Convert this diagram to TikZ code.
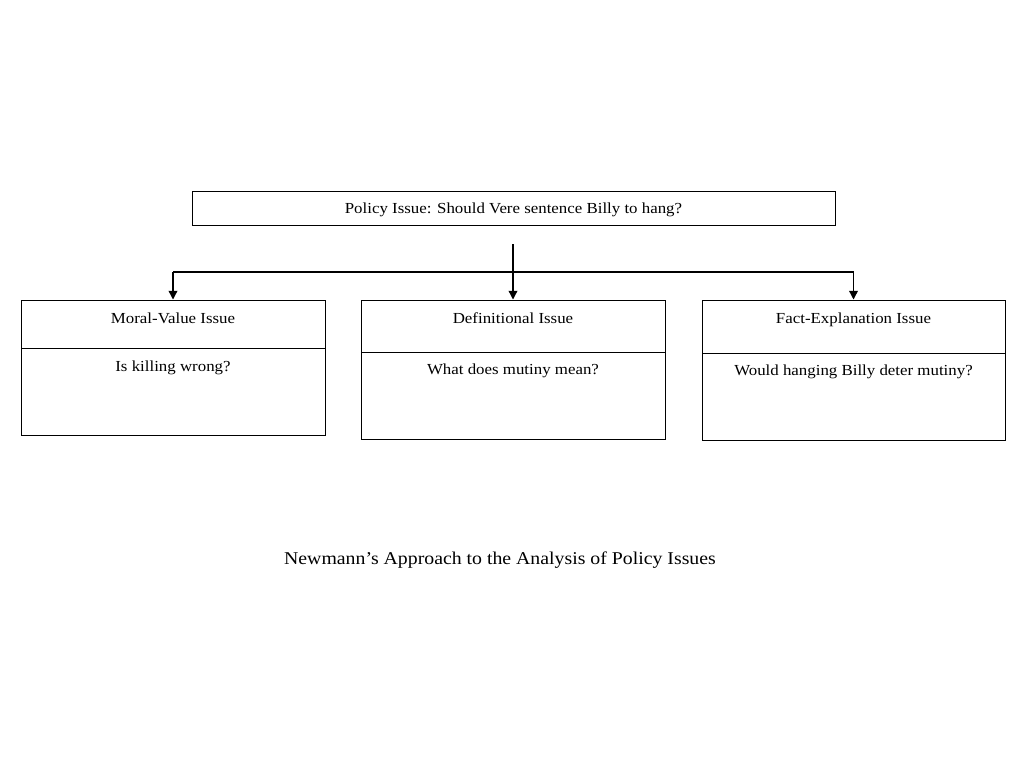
\documentclass[tikz,border=0pt]{standalone}
\usepackage{fontspec}
\setmainfont[FakeStretch=1.1]{Liberation Serif}
\usetikzlibrary{arrows.meta}
\begin{document}
\begin{tikzpicture}[x=0.75pt,y=-0.75pt,
  box/.style={draw,line width=0.75pt,inner sep=0pt,minimum width=228pt},
  txt/.style={inner sep=0pt,text height=8pt,text depth=2.5pt,font=\fontsize{11.5}{13}\selectfont},
  conn/.style={line width=1pt},
  arr/.style={line width=1pt,-{Triangle[width=6.5pt,length=6.5pt]}}]
\useasboundingbox[fill=white] (0,0) rectangle (1024,768);
% top box
\node[box,minimum width=482.25pt,minimum height=25.5pt] (top) at (513.5,208) {};
\node[txt] (toptxt) at (513.5,210) {Policy Issue: Should Vere sentence Billy to hang?};
% left
\node[box,minimum height=36pt] (lh) at (173,324) {};
\node[box,minimum height=65.25pt] (lb) at (173,391.5) {};
\node[txt] (lht) at (173,319.5) {Moral-Value Issue};
\node[txt] (lbt) at (173,367.5) {Is killing wrong?};
% middle
\node[box,minimum height=39pt] (mh) at (513,326) {};
\node[box,minimum height=65.25pt] (mb) at (513,395.5) {};
\node[txt] (mht) at (513,319.5) {Definitional Issue};
\node[txt] (mbt) at (513,370.5) {What does mutiny mean?};
% right
\node[box,minimum width=227.25pt,minimum height=39.75pt] (rh) at (853.5,326.5) {};
\node[box,minimum width=227.25pt,minimum height=65.25pt] (rb) at (853.5,396.5) {};
\node[txt] (rht) at (853.5,319.5) {Fact-Explanation Issue};
\node[txt] (rbt) at (853.5,371.5) {Would hanging Billy deter mutiny?};
% connectors
\coordinate (src) at (513,244);
\coordinate (jl) at (173,272);
\coordinate (jr) at (853.5,272);
\draw[arr] (src) -- (mh.north);
\draw[conn] (jl) -- (jr);
\draw[arr] (jl) -- (lh.north);
\draw[arr] (jr) -- (rh.north);
% caption
\node[inner sep=0pt,font=\fontsize{13.5}{16}\selectfont] (cap) at (500,560) {Newmann’s Approach to the Analysis of Policy Issues};
\end{tikzpicture}
\end{document}
